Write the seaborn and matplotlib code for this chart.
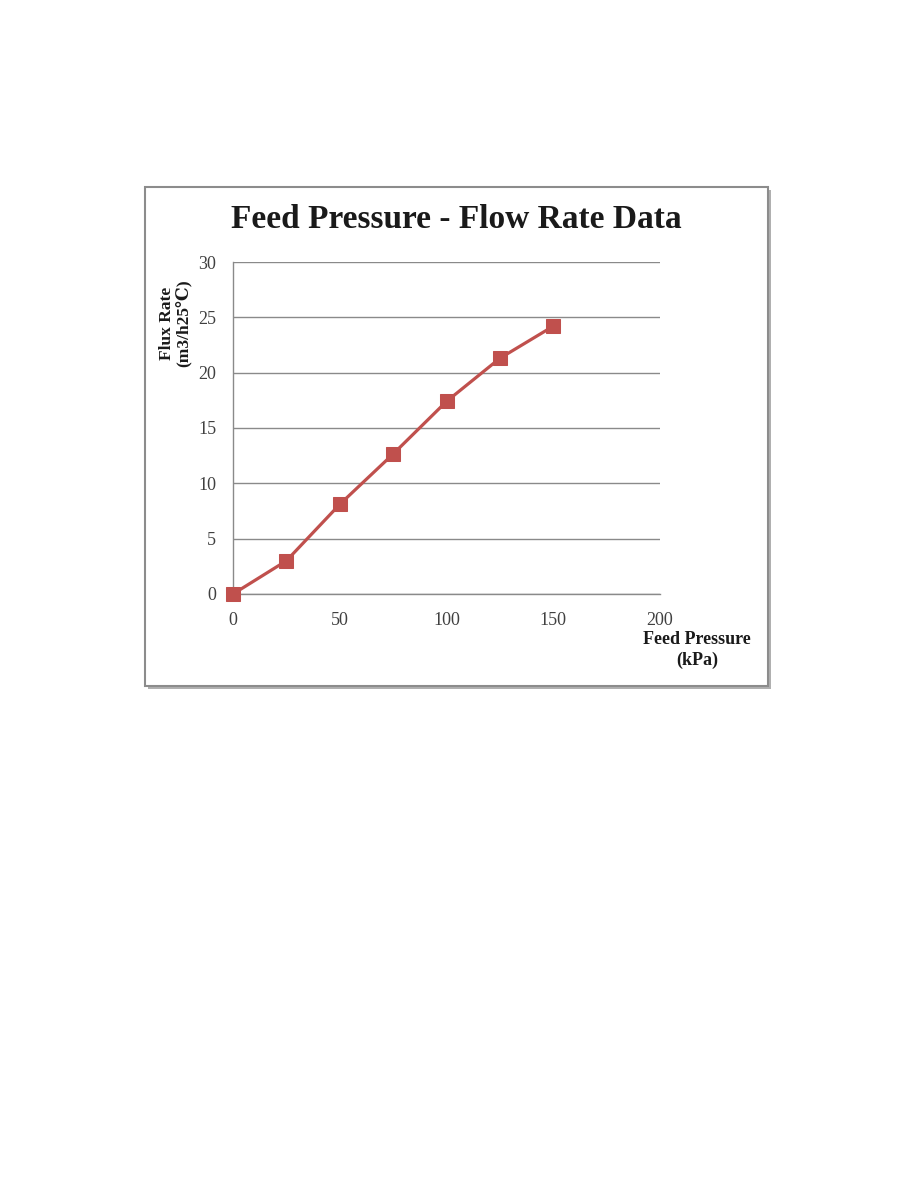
import matplotlib
matplotlib.use("Agg")
import matplotlib.pyplot as plt
import seaborn as sns
import pandas as pd
from matplotlib.patches import Rectangle

feed_pressure = [0, 25, 50, 75, 100, 125, 150]
flux_rate = [0.0, 3.0, 8.1, 12.65, 17.4, 21.3, 24.2]
x_ticks = [0, 50, 100, 150, 200]
y_ticks = [0, 5, 10, 15, 20, 25, 30]

sns.set_style("white")
fam = ['Liberation Serif', 'DejaVu Serif', 'DejaVu Sans']
plt.rcParams['font.family'] = fam

W, H = 918, 1188
fig = plt.figure(figsize=(W / 100, H / 100), dpi=100)
fig.patch.set_facecolor('white')

# chart box with shadow
bx0, by0, bx1, by1 = 145, 187, 768, 686
shadow = Rectangle(((bx0 + 3) / W, 1 - (by1 + 3) / H), (bx1 - bx0) / W, (by1 - by0) / H,
                   transform=fig.transFigure, facecolor='#b0b0b0', edgecolor='none', zorder=-2)
box = Rectangle((bx0 / W, 1 - by1 / H), (bx1 - bx0) / W, (by1 - by0) / H,
                transform=fig.transFigure, facecolor='white', edgecolor='#8c8c8c',
                linewidth=1.5, zorder=-1)
fig.patches.extend([shadow, box])

ax_l, ax_r, ax_t, ax_b = 233, 660, 262, 594
ax = fig.add_axes([ax_l / W, 1 - ax_b / H, (ax_r - ax_l) / W, (ax_b - ax_t) / H])
ax.set_facecolor('none')
ax.set_zorder(1)

df = pd.DataFrame({'Feed Pressure': feed_pressure, 'Flux Rate': flux_rate})
sns.lineplot(data=df, x='Feed Pressure', y='Flux Rate', ax=ax, color='#C0504D',
             linewidth=2.3, marker='s', markersize=10, markeredgecolor='#C0504D',
             clip_on=False, zorder=5)

ax.set_xlim(0, 200)
ax.set_ylim(0, 30)
ax.set_xticks(x_ticks)
ax.set_yticks(y_ticks)
ax.set_xticklabels([str(v) for v in x_ticks])
ax.set_yticklabels([str(v) for v in y_ticks])
ax.tick_params(axis='both', length=0, labelsize=13, labelcolor='#404040')
ax.tick_params(axis='x', pad=13)
ax.tick_params(axis='y', pad=12)
ax.yaxis.grid(True, color='#8a8a8a', linewidth=1.0)
ax.xaxis.grid(False)
for s in ['top', 'right']:
    ax.spines[s].set_visible(False)
for s in ['left', 'bottom']:
    ax.spines[s].set_color('#8a8a8a')
    ax.spines[s].set_linewidth(1.0)
ax.set_xlabel('')
ax.set_ylabel('')

fig.text(456 / W, 1 - 219 / H, 'Feed Pressure - Flow Rate Data', ha='center', va='center',
         fontsize=24, fontweight='bold', color='#1a1a1a', family=fam)
fig.text(175 / W, 1 - 323 / H, 'Flux Rate\n(m3/h25℃)', ha='center', va='center',
         rotation=90, fontsize=12.5, fontweight='bold', color='#1a1a1a', family=fam,
         linespacing=1.0)
fig.text(697 / W, 1 - 650 / H, 'Feed Pressure\n(kPa)', ha='center', va='center',
         fontsize=13, fontweight='bold', color='#1a1a1a', family=fam, linespacing=1.3)

fig.savefig('out.png', dpi=100, facecolor='white')
